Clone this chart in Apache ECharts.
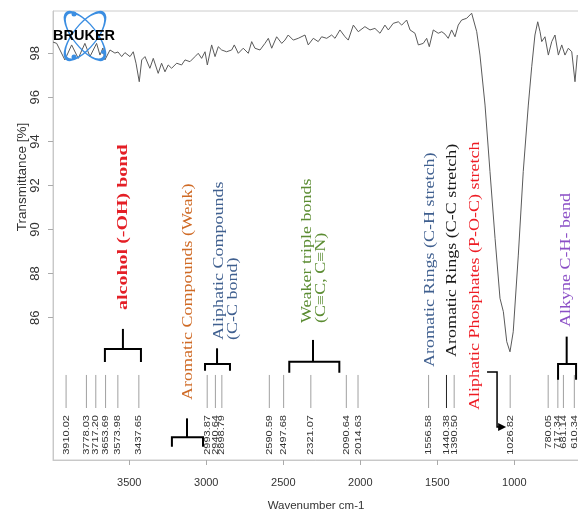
<!DOCTYPE html>
<html>
<head>
<meta charset="utf-8">
<script src="https://cdn.jsdelivr.net/npm/echarts@6/dist/echarts.min.js"></script>
<style>
html,body{margin:0;padding:0;background:#fff;}
#chart{width:578px;height:510px;}
</style>
</head>
<body>
<div id="chart"></div>
<script>
// ---- spectrum (wavenumber cm-1, transmittance %) ----
const specWn = [3995,3971,3918,3874,3831,3788,3755,3712,3690,3671,3658,3625,3593,3573,3549,3528,3495,3474,3456,3435,3419,3398,3366,3344,3312,3290,3268,3247,3225,3192,3160,3138,3106,3073,3052,3030,3008,2993,2965,2943,2922,2900,2868,2835,2818,2792,2760,2727,2705,2684,2651,2619,2597,2575,2543,2510,2489,2468,2435,2403,2359,2338,2305,2273,2251,2218,2186,2164,2132,2099,2078,2045,2013,1970,1937,1905,1872,1840,1818,1786,1753,1731,1699,1677,1645,1623,1591,1569,1552,1526,1494,1471,1450,1429,1407,1385,1364,1342,1309,1277,1266,1244,1223,1190,1158,1125,1093,1071,1049,1028,1007,974,942,909,887,866,848,833,822,801,779,757,736,714,692,671,649,627,606,591];
const specT = [98.51,98.45,97.70,98.38,97.77,98.45,97.85,98.45,97.92,98.24,97.70,98.15,98.01,98.06,97.85,98.03,97.85,98.07,97.55,96.71,97.70,97.85,97.32,97.77,97.09,97.55,97.16,97.47,97.32,97.55,97.47,97.70,97.62,97.85,98.00,97.77,98.07,97.47,98.38,97.85,98.30,98.15,98.07,98.15,98.38,98.00,98.23,98.00,98.53,98.23,98.15,98.45,98.68,98.23,98.75,98.45,98.60,98.83,98.60,98.68,98.83,98.38,98.68,98.53,98.75,98.68,98.83,98.68,99.06,98.75,98.60,99.28,98.98,99.21,99.06,99.13,98.91,99.28,99.06,99.36,99.43,99.28,99.51,99.06,98.91,98.38,98.45,98.68,98.30,99.06,98.91,98.98,98.87,98.68,99.06,98.75,99.28,99.51,99.59,99.82,99.89,98.98,97.92,95.65,92.63,89.60,86.88,86.27,84.91,84.45,85.36,88.84,92.63,95.65,97.39,98.83,99.43,98.98,98.53,98.75,97.92,98.53,98.83,97.92,98.38,97.92,98.23,98.07,96.71,97.92];

// ---- peak picks ----
const peakWn = [3910.02,3778.03,3717.20,3653.69,3573.98,3437.65,2993.87,2940.64,2898.79,2590.59,2497.68,2321.07,2090.64,2014.63,1556.58,1440.38,1390.50,1026.82,780.05,717.34,681.14,610.34];
const darkPeak = [1440.38];

// ---- axis ticks ----
const xTicks = [1000,1500,2000,2500,3000,3500];
const yTicks = [86,88,90,92,94,96,98];

// ---- group annotations ----
const groupText = [
  ['alcohol (-OH) bond'],
  ['Aromatic Compounds (Weak)'],
  ['Aliphatic Compounds','(C-C bond)'],
  ['Weaker triple bonds','(C\u2261C, C\u2261N)'],
  ['Aromatic Rings (C-H stretch)'],
  ['Aromatic Rings (C-C stretch)'],
  ['Aliphatic Phosphates (P-O-C) stretch'],
  ['Alkyne C-H- bend']
];
const groupWn = [3541,3119,2872,2301,1547,1404,1255,664];
// brackets: [left wn, right wn, stem wn]
const bracketWn = [[3658,3424,3541],[3223,3021,3125],[3008,2846,2930],[2461,2136,2307],[716,599,660]];
const arrowWn = [1177,1112,1053];

// ---- layout (positions in transmittance units) & styles ----
const groupAnchorT = [86.35,82.26,84.99,85.76,83.76,84.21,81.81,85.58];
const groupColor = ['#e41f26','#cf6a25','#3f5f8f','#5b8c32','#3f5f8f','#1a1a1a','#ee1c24','#8b4fc6'];
const groupWeight = ['bold','normal','normal','normal','normal','normal','normal','normal'];
const groupSize = [20,18,18,18,18,18,18,18];
const bracketT = [[84.58,83.99,85.49],[80.57,80.14,81.43],[83.90,83.59,84.61],[84.00,83.50,84.99],[83.90,83.18,85.14]]; // bar, leg end, stem top
const arrowT = [83.53,81.04];
const peakLineT = [83.40,81.90];
const peakLabelT = 81.58;

const SANS = '"Liberation Sans", Arial, sans-serif';
const SERIF = '"Liberation Serif", "Times New Roman", serif';

const chart = echarts.init(document.getElementById('chart'), null, {renderer:'canvas'});

const option = {
  animation: false,
  backgroundColor: '#ffffff',
  grid: {left:53, right:-1, top:11, bottom:50, show:true, borderColor:'#cccccc', borderWidth:1,
         backgroundColor:'transparent', containLabel:false, outerBoundsMode:'none'},
  xAxis: {
    type:'value', inverse:true, min:580, max:3995,
    name:'Wavenumber cm-1', nameLocation:'middle', nameGap:40,
    nameTextStyle:{fontSize:11.5, color:'#333', fontFamily:SANS},
    axisLine:{show:true, lineStyle:{color:'#c8c8c8'}},
    axisTick:{show:true, length:5, lineStyle:{color:'#aaaaaa'}, customValues:xTicks},
    axisLabel:{fontSize:11, color:'#333', fontFamily:SANS, margin:17, customValues:xTicks,
               formatter:function(v){ return String(v); }},
    splitLine:{show:false}
  },
  yAxis: {
    type:'value', min:79.54, max:99.92,
    axisLine:{show:true, lineStyle:{color:'#c8c8c8'}},
    axisTick:{show:true, length:5, lineStyle:{color:'#aaaaaa'}, customValues:yTicks},
    axisLabel:{rotate:90, fontSize:13, color:'#333', fontFamily:SANS, margin:11, customValues:yTicks,
               formatter:function(v){ return String(v); }},
    splitLine:{show:false}
  },
  graphic: [
    {type:'text', x:22, y:177, rotation:Math.PI/2, z:10,
     style:{text:'Transmittance [%]', fill:'#333', font:'13.5px '+SANS, align:'center', verticalAlign:'middle'}},
    {type:'circle', x:85, y:36, rotation:-0.9, scaleX:1, scaleY:0.4, z:10,
     shape:{cx:0, cy:0, r:29}, style:{fill:null, stroke:'#3b8ee2', lineWidth:2, strokeNoScale:true}},
    {type:'circle', x:85, y:36, rotation:0.9, scaleX:1, scaleY:0.4, z:10,
     shape:{cx:0, cy:0, r:29}, style:{fill:null, stroke:'#3b8ee2', lineWidth:2, strokeNoScale:true}},
    {type:'circle', x:74, y:14, z:11, shape:{cx:0, cy:0, r:2.5}, style:{fill:'#3b8ee2'}},
    {type:'circle', x:74, y:57, z:11, shape:{cx:0, cy:0, r:2.5}, style:{fill:'#3b8ee2'}},
    {type:'circle', x:103, y:52, z:11, shape:{cx:0, cy:0, r:2}, style:{fill:'#3b8ee2'}},
    {type:'text', x:53, y:36, z:12,
     style:{text:'BRUKER', fill:'#000', font:'bold 14.5px '+SANS, align:'left', verticalAlign:'middle'}}
  ],
  series: [
    {
      type:'line', name:'spectrum',
      data: specWn.map((w,i)=>[w, specT[i]]),
      showSymbol:false, symbol:'none', smooth:false,
      lineStyle:{color:'#5a5a5a', width:1},
      z:2, silent:true
    },
    {
      type:'custom', name:'peaks', silent:true, z:3,
      data: peakWn.map(w=>[w, peakLineT[0]]),
      encode:{x:0, y:1},
      renderItem:function(params, api){
        const w = api.value(0);
        const a = api.coord([w, peakLineT[0]]);
        const b = api.coord([w, peakLineT[1]]);
        const c = api.coord([w, peakLabelT]);
        const dark = darkPeak.indexOf(w) >= 0;
        return {type:'group', children:[
          {type:'line', shape:{x1:a[0], y1:a[1], x2:b[0], y2:b[1]},
           style:{stroke: dark ? '#222' : '#a0a0a0', lineWidth:1}},
          {type:'text', x:c[0], y:c[1], rotation:Math.PI/2, scaleY:0.85,
           style:{text:w.toFixed(2), fill:'#333', font:'11px '+SANS, align:'right', verticalAlign:'middle'}}
        ]};
      }
    },
    {
      type:'custom', name:'brackets', silent:true, z:3,
      data: bracketWn.map((b,i)=>[b[2], bracketT[i][0]]),
      encode:{x:0, y:1},
      renderItem:function(params, api){
        const i = params.dataIndex;
        const b = bracketWn[i], t = bracketT[i];
        const pLe = api.coord([b[0], t[1]]), pL = api.coord([b[0], t[0]]);
        const pR = api.coord([b[1], t[0]]), pRe = api.coord([b[1], t[1]]);
        const pS = api.coord([b[2], t[0]]), pT = api.coord([b[2], t[2]]);
        const children = [
          {type:'polyline', shape:{points:[pLe, pL, pR, pRe]}, style:{stroke:'#000', lineWidth:2, fill:null}},
          {type:'line', shape:{x1:pS[0], y1:pS[1], x2:pT[0], y2:pT[1]}, style:{stroke:'#000', lineWidth:2}}
        ];
        if (i === 0) {
          const q0 = api.coord([arrowWn[0], arrowT[0]]);
          const q1 = api.coord([arrowWn[1], arrowT[0]]);
          const q2 = api.coord([arrowWn[1], arrowT[1]]);
          const q3 = api.coord([arrowWn[2], arrowT[1]]);
          children.push({type:'polyline', shape:{points:[q0, q1, q2, [q3[0]-6, q3[1]]]}, style:{stroke:'#000', lineWidth:1.5, fill:null}});
          children.push({type:'polygon', shape:{points:[[q3[0], q3[1]], [q3[0]-8, q3[1]-4], [q3[0]-8, q3[1]+4]]}, style:{fill:'#000'}});
        }
        return {type:'group', children:children};
      }
    },
    {
      type:'custom', name:'groups', silent:true, z:4,
      data: groupWn.map((w,i)=>[w, groupAnchorT[i]]),
      encode:{x:0, y:1},
      renderItem:function(params, api){
        const i = params.dataIndex;
        const p = api.coord([api.value(0), api.value(1)]);
        return {type:'text', x:p[0], y:p[1], rotation:Math.PI/2, scaleY:0.78,
          style:{text:groupText[i].join('\n'), fill:groupColor[i],
                 font: groupWeight[i] + ' ' + groupSize[i] + 'px ' + SERIF,
                 lineHeight:18, align:'left', verticalAlign:'middle'}};
      }
    }
  ]
};
chart.setOption(option);
</script>
</body>
</html>
